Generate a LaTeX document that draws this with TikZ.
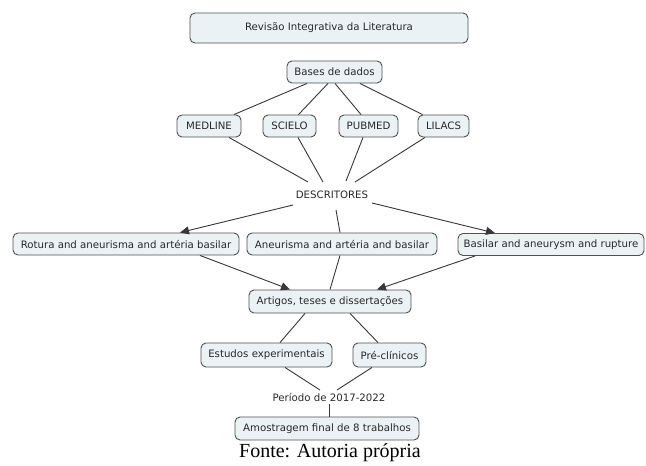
\documentclass[tikz,border=0pt]{standalone}
\usepackage{fontspec}
\usetikzlibrary{arrows.meta,calc}
\newfontfamily\boxfont{DejaVu Sans}
\newfontfamily\capfont{Liberation Serif}
\definecolor{boxfill}{RGB}{235,242,246}
\definecolor{boxline}{RGB}{80,80,80}
\definecolor{txt}{RGB}{40,40,40}
\definecolor{lnk}{RGB}{55,55,55}
\tikzset{
  cbox/.style={draw=boxline, fill=boxfill, rounded corners=5pt, line width=0.9pt,
    font=\boxfont\fontsize{10.2}{12}\selectfont, text=txt, inner sep=0pt,
    minimum height=22pt},
  plain/.style={font=\boxfont\fontsize{10.2}{12}\selectfont, text=txt, inner sep=1pt},
  link/.style={draw=lnk, line width=0.9pt},
  arr/.style={link, -{Triangle[length=9pt,width=8pt]}}
}
\begin{document}
\begin{tikzpicture}[x=1pt,y=-1pt]
\useasboundingbox (0,0) rectangle (646,466);
\node[cbox, minimum width=278pt, minimum height=30pt] (title) at (329,28) {Revisão Integrativa da Literatura};
\node[cbox, minimum width=95pt] (bases) at (334.5,72) {Bases de dados};
\node[cbox, minimum width=64pt] (med) at (209,126) {MEDLINE};
\node[cbox, minimum width=53pt] (sci) at (289.5,126) {SCIELO};
\node[cbox, minimum width=59pt] (pub) at (368.5,126) {PUBMED};
\node[cbox, minimum width=51pt] (lil) at (443.5,126) {LILACS};
\node[plain] (desc) at (332,195) {DESCRITORES};
\node[cbox, minimum width=226pt] (rot) at (126,244) {Rotura and aneurisma and artéria basilar};
\node[cbox, minimum width=190pt] (ane) at (342,244) {Aneurisma and artéria and basilar};
\node[cbox, minimum width=186pt] (bas) at (551,244.5) {Basilar and aneurysm and rupture};
\node[cbox, minimum width=162pt, minimum height=23pt] (art) at (330,301.5) {Artigos, teses e dissertações};
\node[cbox, minimum width=131pt, minimum height=24pt] (est) at (266.5,355) {Estudos experimentais};
\node[cbox, minimum width=73pt, minimum height=24pt] (pre) at (389.5,355) {Pré-clínicos};
\node[plain] (per) at (329,397) {Período de 2017-2022};
\node[cbox, minimum width=184pt, minimum height=23pt] (amo) at (327,428.5) {Amostragem final de 8 trabalhos};
\node[font=\capfont\fontsize{20}{22}\selectfont, inner sep=0pt] (fonte) at (330,453) {Fonte: Autoria própria};
% bases to databases
\draw[link] ($(bases.south)+(-27.5,0)$) -- ($(med.north)+(25,0)$);
\draw[link] ($(bases.south)+(-6.5,0)$) -- ($(sci.north)+(9,0)$);
\draw[link] ($(bases.south)+(0.5,0)$) -- ($(pub.north)+(-7.5,0)$);
\draw[link] ($(bases.south)+(25.5,0)$) -- ($(lil.north)+(-21,0)$);
% databases to descritores
\draw[link] ($(med.south)+(20,0)$) -- ($(desc.center)+(-24,-13)$);
\draw[link] ($(sci.south)+(8.5,0)$) -- ($(desc.center)+(-9,-13)$);
\draw[link] ($(pub.south)+(-5.5,0)$) -- ($(desc.center)+(14,-14)$);
\draw[link] ($(lil.south)+(-18.5,0)$) -- ($(desc.center)+(23,-13)$);
% descritores to search strings
\draw[arr] ($(desc.center)+(-39,10)$) -- ($(rot.north)+(54,0)$);
\draw[link] ($(desc.center)+(4,15)$) -- ($(ane.north)+(-2,0)$);
\draw[arr] ($(desc.center)+(40,8)$) -- ($(bas.north)+(-56,0)$);
% search strings to artigos
\draw[arr] ($(rot.south)+(74,0)$) -- ($(art.north)+(-40,0)$);
\draw[link] ($(ane.south)+(-2,0)$) -- ($(art.north)+(0,0)$);
\draw[arr] ($(bas.south)+(-76,0)$) -- ($(art.north)+(47,0)$);
% artigos to types
\draw[link] ($(art.south)+(-25,0)$) -- ($(est.north)+(13.5,0)$);
\draw[link] ($(art.south)+(20,0)$) -- ($(pre.north)+(-11.5,0)$);
% types to periodo
\draw[link] ($(est.south)+(18.5,0)$) -- ($(per.center)+(-9,-7)$);
\draw[link] ($(pre.south)+(-17.5,0)$) -- ($(per.center)+(8,-7)$);
\draw[link] ($(per.center)+(0,7)$) -- ($(amo.north)+(2,0)$);
\end{tikzpicture}
\end{document}
